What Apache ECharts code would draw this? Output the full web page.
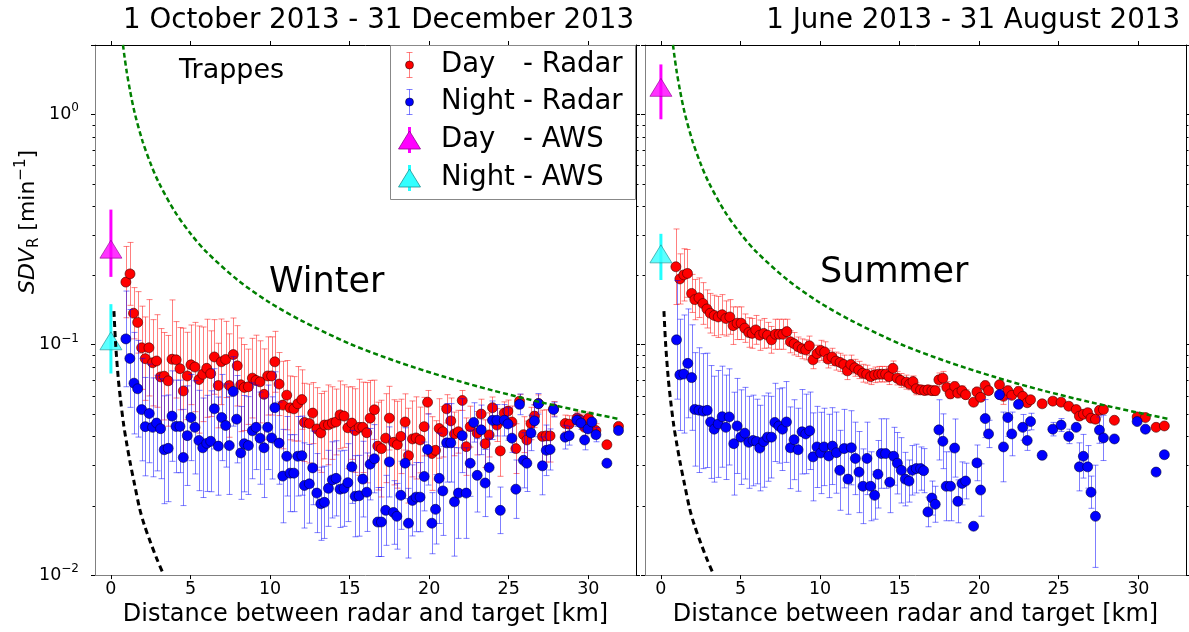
<!DOCTYPE html>
<html><head><meta charset="utf-8">
<script src="https://cdn.jsdelivr.net/npm/echarts@6.0.0/dist/echarts.min.js"></script>
<style>html,body{margin:0;padding:0;background:#fff}#c{width:1189px;height:632px}</style>
</head><body><div id="c"></div>
<script>
// ---------------- DATA ----------------
const titles = ['1 October 2013 - 31 December 2013', '1 June 2013 - 31 August 2013'];
const seasonLabels = ['Winter', 'Summer'];
const xAxisName = 'Distance between radar and target [km]';
const xTicks = [0, 5, 10, 15, 20, 25, 30];
const yMinorTicks = [0.02,0.03,0.04,0.05,0.06,0.07,0.08,0.09,0.2,0.3,0.4,0.5,0.6,0.7,0.8,0.9];

// Winter - Day radar
const wdX = [0.94,1.2,1.42,1.68,1.93,2.16,2.39,2.62,2.87,3.12,3.35,3.6,3.84,4.1,4.34,4.55,4.8,5.03,5.28,5.53,5.77,6.02,6.27,6.5,6.75,6.94,7.21,7.44,7.69,7.94,8.16,8.38,8.64,8.89,9.12,9.37,9.62,9.85,10.1,10.3,10.57,10.8,11.05,11.26,11.5,11.74,12.0,12.16,12.47,12.68,12.94,13.19,13.42,13.67,13.92,14.15,14.4,14.65,14.89,15.14,15.35,15.6,15.83,16.08,16.29,16.56,16.77,17.0,17.27,17.5,17.76,18.0,18.22,18.49,18.7,18.95,19.18,19.43,19.69,19.9,20.17,20.4,20.63,20.86,21.1,21.36,21.59,21.84,22.08,22.33,22.58,23.02,23.27,23.52,23.77,23.98,24.26,24.47,24.72,24.95,25.2,25.45,25.68,25.93,26.14,26.4,26.62,26.87,27.12,27.36,27.6,27.82,28.55,28.8,29.29,29.54,29.77,30.02,30.48,31.17,31.9];
const wdY = [0.187,0.203,0.137,0.125,0.097,0.087,0.097,0.0835,0.085,0.0725,0.073,0.0697,0.0865,0.086,0.0787,0.063,0.0732,0.0818,0.080,0.0706,0.0744,0.079,0.0749,0.0885,0.0665,0.0843,0.0863,0.0665,0.0906,0.081,0.067,0.0652,0.0657,0.0716,0.070,0.069,0.0609,0.0732,0.0732,0.0843,0.0675,0.0547,0.0604,0.0532,0.0527,0.0554,0.0578,0.046,0.0455,0.0505,0.0431,0.0414,0.0448,0.0449,0.0457,0.0462,0.0496,0.049,0.0436,0.0457,0.0424,0.0438,0.0438,0.0415,0.048,0.0522,0.0363,0.0354,0.0393,0.048,0.0377,0.0368,0.040,0.0462,0.033,0.039,0.0394,0.0386,0.0441,0.0563,0.0337,0.0348,0.0433,0.0419,0.0527,0.0467,0.041,0.0419,0.0573,0.0361,0.0441,0.0413,0.05,0.0372,0.0406,0.0533,0.0448,0.0346,0.0505,0.0515,0.0462,0.0354,0.0569,0.0407,0.0386,0.0455,0.049,0.0556,0.040,0.0402,0.0402,0.0527,0.0455,0.0452,0.048,0.047,0.0438,0.048,0.0424,0.0368,0.0442];
const wdErr = [0.08,0.075,0.04,0.045,0.05,0.045,0.06,0.045,0.05,0.045,0.04,0.04,0.07,0.04,0.04,0.055,0.04,0.04,0.045,0.05,0.045,0.05,0.04,0.04,0.035,0.045,0.04,0.045,0.04,0.04,0.04,0.035,0.03,0.035,0.04,0.035,0.035,0.035,0.035,0.03,0.025,0.03,0.025,0.02,0.02,0.025,0.02,0.022,0.022,0.018,0.022,0.02,0.018,0.022,0.02,0.018,0.02,0.018,0.022,0.02,0.022,0.027,0.025,0.027,0.022,0.018,0.02,0.022,0.022,0.018,0.02,0.02,0.018,0.015,0.02,0.018,0.02,0.015,0.015,0.007,0.015,0.012,0.015,0.012,0.008,0.012,0.01,0.01,0.006,0.012,0.01,0.01,0.008,0.01,0.01,0.006,0.008,0.01,0.006,0.006,0.008,0.01,0.004,0.008,0.008,0.008,0.006,0.005,0.012,0.012,0.012,0.004,0.004,0.004,0.003,0.003,0.004,0.003,0.003,0,0];

// Winter - Night radar
const wnX = [0.94,1.19,1.45,1.68,1.93,2.16,2.41,2.62,2.87,3.12,3.35,3.6,3.84,4.09,4.34,4.55,4.8,5.03,5.28,5.53,5.77,6.02,6.27,6.5,6.75,6.96,7.21,7.44,7.69,7.9,8.16,8.38,8.64,8.89,9.12,9.37,9.62,9.85,10.1,10.3,10.57,10.8,11.05,11.26,11.5,11.74,12.0,12.16,12.47,12.68,12.94,13.19,13.42,13.67,13.92,14.15,14.4,14.65,14.89,15.14,15.35,15.6,15.83,16.08,16.29,16.56,16.77,17.0,17.27,17.5,17.76,17.97,18.22,18.49,18.7,18.95,19.18,19.43,19.69,19.9,20.17,20.4,20.63,20.86,21.1,21.36,21.59,21.84,22.08,22.33,22.58,22.8,23.02,23.27,23.52,23.77,23.98,24.26,24.47,24.72,24.95,25.2,25.45,25.68,25.93,26.14,26.4,26.62,26.87,27.12,27.36,27.6,27.82,28.55,28.8,29.29,29.54,29.77,29.98,30.23,30.48,31.17,31.9];
const wnY = [0.106,0.0872,0.0681,0.0644,0.0523,0.0441,0.0503,0.0438,0.0457,0.0432,0.035,0.0355,0.049,0.0442,0.0442,0.0324,0.0403,0.0483,0.0438,0.0384,0.0357,0.0373,0.0381,0.0527,0.0363,0.0483,0.0446,0.0365,0.0627,0.0475,0.0339,0.0372,0.0365,0.0423,0.0438,0.0393,0.0357,0.0438,0.0394,0.0533,0.0374,0.0269,0.0328,0.0277,0.0277,0.0328,0.033,0.0245,0.0249,0.0292,0.0227,0.0204,0.0207,0.0238,0.0259,0.0263,0.0236,0.0238,0.0252,0.0295,0.022,0.0221,0.0261,0.0229,0.0303,0.032,0.017,0.017,0.0191,0.031,0.0187,0.018,0.0222,0.0306,0.0168,0.0211,0.0218,0.0218,0.0268,0.0351,0.0168,0.0193,0.0263,0.0232,0.0375,0.0375,0.0208,0.0227,0.0403,0.0227,0.0306,0.046,0.0271,0.0427,0.0251,0.0293,0.047,0.047,0.0191,0.047,0.0453,0.0393,0.0236,0.0551,0.0315,0.0306,0.0414,0.0467,0.0554,0.0298,0.0348,0.0351,0.0523,0.0397,0.0403,0.047,0.0457,0.0386,0.0431,0.0462,0.0407,0.0306,0.0424];
const wnErr = [0.065,0.055,0.045,0.04,0.035,0.028,0.032,0.028,0.028,0.028,0.025,0.025,0.028,0.026,0.026,0.02,0.026,0.026,0.026,0.025,0.023,0.023,0.025,0.026,0.023,0.026,0.023,0.023,0.026,0.026,0.02,0.023,0.023,0.026,0.023,0.023,0.023,0.023,0.02,0.023,0.019,0.016,0.016,0.013,0.013,0.016,0.016,0.013,0.012,0.013,0.011,0.009,0.009,0.011,0.012,0.012,0.011,0.011,0.012,0.013,0.011,0.011,0.012,0.011,0.013,0.013,0.007,0.007,0.008,0.013,0.007,0.007,0.009,0.013,0.007,0.009,0.009,0.009,0.011,0.015,0.006,0.008,0.015,0.013,0.018,0.018,0.015,0.013,0.018,0.013,0.012,0.01,0.012,0.012,0.01,0.01,0.01,0.008,0.005,0.008,0.008,0.006,0.008,0.006,0.01,0.01,0.008,0.008,0.006,0.01,0.01,0.008,0.004,0.005,0.004,0.003,0.003,0.004,0,0,0.003,0,0];

// Summer - Day radar
const sdX = [0.94,1.19,1.44,1.67,1.93,2.13,2.39,2.64,2.89,3.1,3.35,3.6,3.85,4.08,4.33,4.54,4.79,5.04,5.27,5.52,5.73,5.96,6.21,6.46,6.7,6.95,7.2,7.43,7.66,7.91,8.14,8.37,8.62,8.87,9.1,9.33,9.56,9.81,10.04,10.29,10.5,10.75,11.0,11.26,11.49,11.72,11.93,12.18,12.43,12.68,12.93,13.18,13.43,13.68,13.89,14.12,14.33,14.58,14.84,15.07,15.42,15.63,15.84,16.05,16.32,16.57,16.78,17.03,17.24,17.47,17.72,17.97,18.19,18.46,18.66,18.92,19.15,19.65,19.86,20.09,20.38,20.59,21.28,21.53,21.8,22.05,22.47,22.74,23.02,23.23,23.96,24.63,25.15,25.63,26.1,26.3,26.55,26.82,27.03,27.31,27.56,27.81,28.5,29.93,30.45,31.12,31.64];
const sdY = [0.218,0.193,0.201,0.204,0.167,0.157,0.16,0.151,0.143,0.137,0.134,0.132,0.135,0.13,0.132,0.121,0.124,0.124,0.118,0.113,0.112,0.116,0.11,0.112,0.11,0.105,0.111,0.111,0.111,0.114,0.103,0.101,0.098,0.096,0.095,0.099,0.086,0.0915,0.0945,0.093,0.0866,0.0885,0.0849,0.0838,0.0821,0.077,0.0821,0.0794,0.0777,0.0752,0.0745,0.0727,0.074,0.0745,0.0745,0.0745,0.0727,0.079,0.0716,0.070,0.0688,0.0675,0.0692,0.0644,0.0637,0.0633,0.0637,0.0632,0.0632,0.0704,0.0716,0.0652,0.0612,0.0659,0.0617,0.0632,0.0607,0.0563,0.0624,0.0591,0.0665,0.0632,0.067,0.0597,0.0632,0.0603,0.0627,0.0597,0.056,0.0577,0.0554,0.0569,0.0563,0.0541,0.0523,0.049,0.0499,0.0507,0.048,0.0475,0.0519,0.0523,0.047,0.0486,0.0483,0.0438,0.0444];
const sdErr = [0.1,0.055,0.06,0.055,0.035,0.035,0.035,0.035,0.03,0.03,0.03,0.03,0.03,0.025,0.025,0.025,0.022,0.022,0.018,0.018,0.018,0.018,0.018,0.018,0.015,0.015,0.018,0.018,0.018,0.015,0.012,0.012,0.01,0.01,0.01,0.01,0.008,0.008,0.01,0.01,0.008,0.008,0.008,0.008,0.008,0.007,0.008,0.007,0.007,0.007,0.007,0.006,0.006,0.006,0.006,0.006,0.006,0.006,0.005,0.005,0.005,0.004,0.004,0.004,0.003,0.003,0.003,0.003,0.003,0.005,0.005,0.004,0.003,0.003,0.003,0.003,0.003,0.002,0.003,0.002,0.003,0.002,0.003,0.005,0.003,0.002,0.003,0.002,0.002,0.002,0.002,0.002,0.002,0.002,0.002,0.002,0.002,0.002,0.002,0.002,0.002,0.002,0,0.002,0,0,0];

// Summer - Night radar
const snX = [0.98,1.19,1.44,1.69,1.93,2.13,2.39,2.66,2.91,3.12,3.35,3.6,3.85,4.08,4.29,4.58,4.79,5.02,5.27,5.52,5.79,6.01,6.21,6.46,6.7,6.95,7.16,7.41,7.64,7.89,8.14,8.37,8.62,8.87,9.1,9.35,9.56,9.81,10.04,10.25,10.55,10.78,11.03,11.24,11.51,11.76,11.97,12.22,12.45,12.7,12.95,13.18,13.43,13.64,13.85,14.12,14.38,14.63,14.86,15.11,15.36,15.59,15.8,16.05,16.32,16.51,16.78,17.03,17.24,17.47,17.72,17.93,18.2,18.46,18.66,18.92,19.15,19.65,19.86,20.09,20.38,20.59,21.28,21.53,21.8,22.05,22.47,22.74,23.02,23.23,23.96,24.63,25.15,25.63,26.1,26.3,26.55,26.82,27.03,27.31,27.56,27.81,28.5,29.93,30.45,31.12,31.64];
const snY = [0.105,0.074,0.0746,0.083,0.072,0.0524,0.052,0.0515,0.0519,0.0462,0.043,0.0453,0.0487,0.0438,0.0486,0.0372,0.0444,0.0397,0.0413,0.0377,0.0384,0.038,0.0356,0.038,0.0397,0.0397,0.046,0.0444,0.043,0.0462,0.0357,0.0387,0.035,0.0419,0.041,0.0423,0.0326,0.036,0.0339,0.036,0.0329,0.0363,0.034,0.0285,0.0354,0.0261,0.0357,0.0321,0.028,0.0243,0.0321,0.0243,0.0222,0.0274,0.0337,0.0337,0.0253,0.0328,0.0306,0.0285,0.0261,0.0256,0.0285,0.029,0.029,0.0284,0.0188,0.0216,0.0203,0.0427,0.0381,0.0243,0.0243,0.0356,0.0209,0.025,0.0256,0.0163,0.0307,0.0234,0.0478,0.041,0.0607,0.036,0.0483,0.041,0.0551,0.0438,0.0384,0.0464,0.0331,0.043,0.0448,0.040,0.0438,0.0295,0.0328,0.0295,0.0229,0.018,0.0426,0.0394,0.039,0.0464,0.043,0.028,0.0333];
const snErr = [0.085,0.055,0.06,0.06,0.05,0.04,0.045,0.04,0.04,0.035,0.03,0.032,0.032,0.03,0.03,0.025,0.027,0.024,0.024,0.022,0.022,0.02,0.019,0.022,0.022,0.02,0.022,0.02,0.022,0.023,0.018,0.019,0.018,0.022,0.02,0.02,0.018,0.018,0.017,0.017,0.017,0.017,0.017,0.014,0.017,0.011,0.016,0.014,0.014,0.011,0.014,0.01,0.006,0.011,0.014,0.014,0.009,0.011,0.011,0.011,0.008,0.006,0.008,0.008,0.007,0.007,0.003,0.004,0.004,0.015,0.012,0.01,0.01,0.012,0.005,0.006,0.005,0,0.006,0.007,0.01,0.006,0.003,0.015,0.01,0.01,0,0.006,0.004,0.004,0,0.003,0.003,0.003,0,0.008,0.008,0.007,0.004,0.012,0.006,0.01,0,0,0,0,0];

// AWS points (x = 0): [day, night]
const awsX = [0, 0];
const awsWinterY = [0.26, 0.104];
const awsWinterLo = [0.197, 0.075];
const awsWinterHi = [0.386, 0.15];
const awsSummerY = [1.31, 0.248];
const awsSummerLo = [0.952, 0.191];
const awsSummerHi = [1.647, 0.303];

// Reference curves
const greenX = [0.7,0.76,0.85,1,1.2,1.5,2,2.5,3,4,5,6,8,10,12,15,18,21,24,27,30,32];
const greenY = [2.17,2.0,1.79,1.52,1.27,1.01,0.76,0.61,0.507,0.38,0.304,0.253,0.19,0.152,0.127,0.101,0.0844,0.0724,0.0633,0.0563,0.0507,0.0475];
const blackX = [0.19,0.3,0.46,0.6,0.8,1.0,1.2,1.5,1.8,2.1,2.5,2.9,3.3];
const blackY = [0.14,0.1,0.0716,0.058,0.045,0.037,0.031,0.0245,0.0195,0.0165,0.0138,0.0117,0.0101];

const legendLabels = [['Day', '- Radar'], ['Night', '- Radar'], ['Day', '- AWS'], ['Night', '- AWS']];

// ---------------- CHART ----------------
const FONT = 'DejaVu Sans';
const chart = echarts.init(document.getElementById('c'), null, {renderer: 'canvas'});
const zip3 = (xs, ys, es) => xs.map((x, i) => [x, ys[i], es[i] || 0]);
const zip2 = (xs, ys) => xs.map((x, i) => [x, ys[i]]);

function fmtLog(v) {
  const l = Math.log10(v);
  const e = Math.round(l);
  if (Math.abs(l - e) > 1e-6) return '';
  return '{b|10}{s|' + (e < 0 ? '\u2212' + (-e) : e) + '}';
}

function xAx(g, pos, labels) {
  return {
    type: 'value', gridIndex: g, position: pos, min: -1, max: 33,
    axisLine: {show: true, onZero: false, lineStyle: {color: pos === 'bottom' ? '#808080' : '#000', width: 1}},
    axisTick: {show: true, inside: false, length: 4, customValues: xTicks, lineStyle: {color: '#000'}},
    axisLabel: {show: labels, customValues: xTicks, margin: 5, fontFamily: FONT, fontSize: 17.5, color: '#000'},
    splitLine: {show: false},
    name: labels ? xAxisName : '', nameLocation: 'middle', nameGap: 22,
    nameTextStyle: {fontFamily: FONT, fontSize: 24, color: '#000'}
  };
}
function yAx(g, pos, labels) {
  return {
    type: 'log', logBase: 10, gridIndex: g, position: pos, min: 0.01, max: 2,
    axisLine: {show: true, onZero: false, lineStyle: {color: pos === 'left' ? '#808080' : '#000', width: 1}},
    axisTick: {show: true, inside: false, length: 4, lineStyle: {color: '#000'}},
    axisLabel: {show: labels, margin: 16, formatter: fmtLog,
      rich: {b: {fontFamily: FONT, fontSize: 17.5, color: '#000', lineHeight: 24},
             s: {fontFamily: FONT, fontSize: 12, color: '#000', lineHeight: 12, verticalAlign: 'top'}}},
    splitLine: {show: false}, minorTick: {show: false}
  };
}

// error bars: upper end y+err, lower end placed symmetrically on the log axis
function errRender(color, capW, lw) {
  return function (params, api) {
    const x = api.value(0), y = api.value(1), e = api.value(2);
    if (!e) return null;
    const hi = y + e, lo = y * y / hi;
    const p1 = api.coord([x, hi]), p2 = api.coord([x, lo]);
    const st = {stroke: color, lineWidth: lw};
    const cx = Math.round(p1[0]) + 0.5;
    return {type: 'group', children: [
      {type: 'line', shape: {x1: cx, y1: p1[1], x2: cx, y2: p2[1]}, style: st},
      {type: 'line', shape: {x1: cx - capW, y1: p1[1], x2: cx + capW, y2: p1[1]}, style: st},
      {type: 'line', shape: {x1: cx - capW, y1: p2[1], x2: cx + capW, y2: p2[1]}, style: st}
    ]};
  };
}
function awsRender(colors) {
  return function (params, api) {
    const x = api.value(0), lo = api.value(2), hi = api.value(3);
    const p1 = api.coord([x, hi]), p2 = api.coord([x, lo]);
    return {type: 'line', shape: {x1: p1[0], y1: p1[1], x2: p2[0], y2: p2[1]},
      style: {stroke: colors[params.dataIndex], lineWidth: 3}};
  };
}
function minorRender(params, api) {
  const v = api.value(1);
  const cs = params.coordSys;
  const y = Math.round(api.coord([0, v])[1]) + 0.5;
  const st = {stroke: '#000', lineWidth: 1};
  return {type: 'group', children: [
    {type: 'line', shape: {x1: cs.x - 2.5, y1: y, x2: cs.x, y2: y}, style: st},
    {type: 'line', shape: {x1: cs.x + cs.width, y1: y, x2: cs.x + cs.width + 2.5, y2: y}, style: st}
  ]};
}

const panels = [
  {day: [wdX, wdY, wdErr], night: [wnX, wnY, wnErr], aws: [awsWinterY, awsWinterLo, awsWinterHi]},
  {day: [sdX, sdY, sdErr], night: [snX, snY, snErr], aws: [awsSummerY, awsSummerLo, awsSummerHi]}
];
const RED_BAR = 'rgba(255,0,0,0.5)', BLUE_BAR = 'rgba(0,0,255,0.5)';

const series = [];
panels.forEach((p, g) => {
  const xi = g * 2, yi = g * 2;
  series.push({type: 'custom', xAxisIndex: xi, yAxisIndex: yi, clip: false, silent: true, z: 1,
    data: yMinorTicks.map(v => [0, v]), renderItem: minorRender});
  series.push({type: 'custom', xAxisIndex: xi, yAxisIndex: yi, clip: true, silent: true, z: 2,
    data: zip3(p.day[0], p.day[1], p.day[2]), renderItem: errRender(RED_BAR, 3, 1)});
  series.push({type: 'scatter', xAxisIndex: xi, yAxisIndex: yi, z: 3, symbol: 'circle', symbolSize: 10,
    itemStyle: {color: '#ff0000', borderColor: '#400000', borderWidth: 0.6, opacity: 1},
    data: zip2(p.day[0], p.day[1])});
  series.push({type: 'custom', xAxisIndex: xi, yAxisIndex: yi, clip: true, silent: true, z: 4,
    data: zip3(p.night[0], p.night[1], p.night[2]), renderItem: errRender(BLUE_BAR, 3, 1)});
  series.push({type: 'scatter', xAxisIndex: xi, yAxisIndex: yi, z: 5, symbol: 'circle', symbolSize: 10,
    itemStyle: {color: '#0000ff', borderColor: '#000040', borderWidth: 0.6, opacity: 1},
    data: zip2(p.night[0], p.night[1])});
  series.push({type: 'custom', xAxisIndex: xi, yAxisIndex: yi, clip: true, silent: true, z: 6,
    data: awsX.map((x, i) => [x, p.aws[0][i], p.aws[1][i], p.aws[2][i]]),
    renderItem: awsRender(['#ff00ff', '#22ffff'])});
  series.push({type: 'scatter', xAxisIndex: xi, yAxisIndex: yi, z: 7, symbol: 'triangle', symbolSize: [22, 18],
    data: awsX.map((x, i) => ({value: [x, p.aws[0][i]],
      itemStyle: i === 0 ? {color: '#ff00ff', borderColor: '#900090', borderWidth: 0.8}
                         : {color: '#33ffff', borderColor: '#209090', borderWidth: 0.8}}))});
  series.push({type: 'line', xAxisIndex: xi, yAxisIndex: yi, z: 8, showSymbol: false, smooth: 0.3, clip: true,
    lineStyle: {color: '#008000', width: 2.5, type: [5, 3]}, data: zip2(greenX, greenY)});
  series.push({type: 'line', xAxisIndex: xi, yAxisIndex: yi, z: 8, showSymbol: false, smooth: 0.3, clip: true,
    lineStyle: {color: '#000', width: 3, type: [6, 4]}, data: zip2(blackX, blackY)});
});

// legend (drawn as graphic elements in the left panel)
const legendColors = [[RED_BAR, '#ff0000'], [BLUE_BAR, '#0000ff'], ['#ff00ff', '#ff00ff'], ['#22ffff', '#33ffff']];
const legendRows = [65, 102, 140, 178];
const LFONT = '27.5px "' + FONT + '"';
const graphics = [
  {type: 'rect', shape: {x: 390.5, y: 45.5, width: 245, height: 154}, style: {fill: '#fff', stroke: '#888', lineWidth: 1}, z: 10}
];
legendRows.forEach((cy, i) => {
  const mx = 409.5;
  if (i < 2) {
    const st = {stroke: legendColors[i][0], lineWidth: 1};
    graphics.push({type: 'line', shape: {x1: mx, y1: cy - 12.5, x2: mx, y2: cy + 12.5}, style: st, z: 11});
    graphics.push({type: 'line', shape: {x1: mx - 3, y1: cy - 12.5, x2: mx + 3, y2: cy - 12.5}, style: st, z: 11});
    graphics.push({type: 'line', shape: {x1: mx - 3, y1: cy + 12.5, x2: mx + 3, y2: cy + 12.5}, style: st, z: 11});
    graphics.push({type: 'circle', shape: {cx: mx, cy: cy, r: 4}, style: {fill: legendColors[i][1], stroke: '#000', lineWidth: 0.5}, z: 12});
  } else {
    graphics.push({type: 'line', shape: {x1: mx, y1: cy - 13, x2: mx, y2: cy + 13}, style: {stroke: legendColors[i][0], lineWidth: 3}, z: 11});
    graphics.push({type: 'polygon', shape: {points: [[mx - 11, cy + 9], [mx + 11, cy + 9], [mx, cy - 9]]},
      style: {fill: legendColors[i][1], stroke: i === 2 ? '#900090' : '#209090', lineWidth: 0.8}, z: 12});
  }
  graphics.push({type: 'text', x: 441, y: cy, style: {text: legendLabels[i][0], font: LFONT, fill: '#000', verticalAlign: 'middle', align: 'left'}, z: 12});
  graphics.push({type: 'text', x: 523, y: cy, style: {text: legendLabels[i][1], font: LFONT, fill: '#000', verticalAlign: 'middle', align: 'left'}, z: 12});
});
graphics.push({type: 'text', x: 179, y: 57, style: {text: 'Trappes', font: '27px "' + FONT + '"', fill: '#000', verticalAlign: 'top'}, z: 12});
graphics.push({type: 'text', x: 269, y: 265, style: {text: seasonLabels[0], font: '35px "' + FONT + '"', fill: '#000', verticalAlign: 'top'}, z: 12});
graphics.push({type: 'text', x: 820, y: 255, style: {text: seasonLabels[1], font: '35px "' + FONT + '"', fill: '#000', verticalAlign: 'top'}, z: 12});
graphics.push({type: 'text', x: 28, y: 222, rotation: Math.PI / 2, z: 12,
  style: {text: '{i|SDV}{sub|R}{n| [min}{sup|\u22121}{n|]}', align: 'center', verticalAlign: 'middle',
    rich: {
      i: {fontFamily: FONT, fontStyle: 'italic', fontSize: 22, fill: '#000', lineHeight: 28},
      n: {fontFamily: FONT, fontSize: 22, fill: '#000', lineHeight: 28},
      sub: {fontFamily: FONT, fontSize: 15, fill: '#000', lineHeight: 15, verticalAlign: 'bottom'},
      sup: {fontFamily: FONT, fontSize: 15, fill: '#000', lineHeight: 15, verticalAlign: 'top'}
    }}});

chart.setOption({
  animation: false,
  backgroundColor: '#fff',
  title: [
    {text: titles[0], right: 555, top: 7, padding: 0, textStyle: {fontFamily: FONT, fontSize: 27.7, fontWeight: 'normal', color: '#000'}},
    {text: titles[1], right: 9, top: 7, padding: 0, textStyle: {fontFamily: FONT, fontSize: 27.7, fontWeight: 'normal', color: '#000'}}
  ],
  grid: [
    {left: 95, top: 45, width: 541, height: 538, containLabel: false},
    {left: 645, top: 45, width: 541, height: 538, containLabel: false}
  ],
  xAxis: [xAx(0, 'bottom', true), xAx(0, 'top', false), xAx(1, 'bottom', true), xAx(1, 'top', false)],
  yAxis: [yAx(0, 'left', true), yAx(0, 'right', false), yAx(1, 'left', false), yAx(1, 'right', false)],
  series: series,
  graphic: graphics
});
</script></body></html>
